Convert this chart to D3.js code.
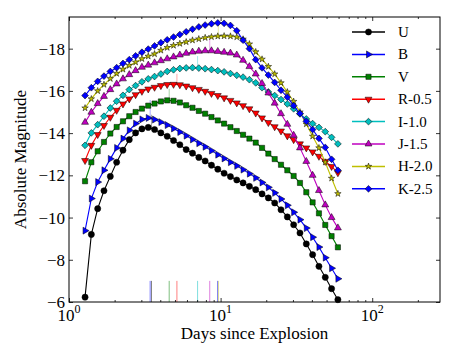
<!DOCTYPE html>
<html>
<head>
<meta charset="utf-8">
<script src="https://cdn.jsdelivr.net/npm/d3@7"></script>
<style>
  body { margin: 0; background: #fff; }
  text { font-family: "Liberation Serif", "DejaVu Serif", serif; fill: #000; }
</style>
</head>
<body>
<div class="chart"></div>
<script>
// light curves, one point per epoch (days since explosion)
var days = [1.276, 1.404, 1.546, 1.701, 1.873, 2.062, 2.270, 2.498, 2.750, 3.027, 3.332, 3.667, 4.037, 4.444, 4.892, 5.385, 5.928, 6.525, 7.183, 7.907, 8.704, 9.581, 10.546, 11.610, 12.780, 14.067, 15.486, 17.047, 18.765, 20.654, 22.737, 25.027, 27.550, 30.327, 33.384, 36.749, 40.453, 44.530, 49.018, 53.951, 59.384];

var magU = [-6.23, -9.2, -10.42, -11.27, -11.95, -12.62, -13.19, -13.69, -14.01, -14.2, -14.27, -14.17, -14.01, -13.85, -13.65, -13.45, -13.22, -13.05, -12.85, -12.68, -12.48, -12.29, -12.10, -11.94, -11.78, -11.64, -11.48, -11.32, -11.12, -10.93, -10.69, -10.37, -10.03, -9.66, -9.27, -8.75, -8.24, -7.69, -7.17, -6.63, -6.11];
var magB = [-9.38, -10.9, -11.68, -12.24, -12.78, -13.3, -13.74, -14.13, -14.45, -14.65, -14.72, -14.64, -14.52, -14.38, -14.22, -14.05, -13.88, -13.7, -13.52, -13.35, -13.17, -12.98, -12.8, -12.62, -12.45, -12.27, -12.08, -11.88, -11.66, -11.43, -11.17, -10.88, -10.58, -10.25, -9.9, -9.5, -9.07, -8.6, -8.1, -7.6, -7.1];
var magV = [-11.72, -12.62, -13.14, -13.58, -13.98, -14.29, -14.56, -14.8, -15.0, -15.16, -15.3, -15.4, -15.5, -15.55, -15.53, -15.45, -15.32, -15.2, -15.05, -14.92, -14.76, -14.6, -14.45, -14.28, -14.1, -13.92, -13.74, -13.55, -13.3, -13.03, -12.77, -12.5, -12.24, -11.97, -11.64, -11.2, -10.72, -10.2, -9.65, -9.12, -8.59];
var magR = [-12.7, -13.42, -13.93, -14.36, -14.75, -15.08, -15.38, -15.62, -15.82, -15.98, -16.09, -16.17, -16.25, -16.3, -16.31, -16.29, -16.23, -16.15, -16.07, -15.98, -15.88, -15.78, -15.67, -15.55, -15.43, -15.3, -15.15, -14.95, -14.72, -14.5, -14.3, -14.1, -13.87, -13.69, -13.49, -13.3, -13.11, -12.9, -12.66, -12.42, -12.12];
var magI = [-13.42, -14.01, -14.4, -14.8, -15.19, -15.51, -15.79, -16.06, -16.25, -16.43, -16.57, -16.68, -16.8, -16.92, -17.0, -17.06, -17.09, -17.1, -17.08, -17.05, -17.01, -16.96, -16.9, -16.82, -16.74, -16.65, -16.53, -16.38, -16.15, -15.95, -15.78, -15.59, -15.38, -15.15, -14.91, -14.67, -14.45, -14.27, -14.07, -13.8, -13.49];
var magJ = [-14.51, -14.99, -15.4, -15.74, -16.06, -16.33, -16.57, -16.77, -16.96, -17.12, -17.22, -17.33, -17.43, -17.52, -17.61, -17.7, -17.78, -17.84, -17.88, -17.9, -17.9, -17.87, -17.83, -17.79, -17.7, -17.45, -17.15, -16.8, -16.35, -15.9, -15.42, -14.92, -14.42, -13.9, -13.3, -12.66, -12.0, -11.28, -10.6, -10.0, -9.51];
var magH = [-15.19, -15.62, -16.0, -16.3, -16.58, -16.82, -17.02, -17.2, -17.36, -17.52, -17.64, -17.75, -17.92, -18.05, -18.15, -18.24, -18.32, -18.4, -18.46, -18.52, -18.56, -18.59, -18.6, -18.59, -18.55, -18.45, -18.22, -17.85, -17.5, -17.15, -16.8, -16.38, -15.95, -15.5, -15.0, -14.43, -13.85, -13.3, -12.62, -11.86, -11.13];
var magK = [-15.78, -16.15, -16.45, -16.7, -16.92, -17.1, -17.3, -17.48, -17.66, -17.83, -17.98, -18.13, -18.28, -18.42, -18.55, -18.67, -18.8, -18.92, -19.03, -19.12, -19.18, -19.22, -19.2, -19.1, -18.85, -18.4, -18.0, -17.48, -17.09, -16.75, -16.4, -16.03, -15.7, -15.3, -14.93, -14.56, -14.17, -13.75, -13.32, -12.76, -12.24];

var bandLabels = ["U", "B", "V", "R-0.5", "I-1.0", "J-1.5", "H-2.0", "K-2.5"];
var bandMags = [magU, magB, magV, magR, magI, magJ, magH, magK];

// peak epochs, peak magnitudes and how far the mark above each peak reaches
var peakDays = [3.50, 3.43, 4.58, 5.15, 7.05, 8.48, 9.66, 9.55];
var peakMags = [-14.27, -14.72, -15.55, -16.31, -17.1, -17.9, -18.6, -19.22];
var peakReach = [0.6, 0.85, 0.55, 0.5, 0.55, 0.55, 0.5, 0];

var xMajor = [1, 10, 100];
var yTicks = [-6, -8, -10, -12, -14, -16, -18];

var colors = ["#000000", "#0000ff", "#008000", "#ff0000", "#00bfbf", "#bf00bf", "#bfbf00", "#0000ff"];
var shapes = ["circle", "tright", "square", "tdown", "diamond", "tup", "star", "diamond"];

var W = 463, H = 348;
var padL = 69, padR = 440, padT = 17, padB = 302;

var svg = d3.select(".chart").append("svg")
    .attr("width", W)
    .attr("height", H);

var x = d3.scaleLog().domain([1, 280]).range([padL, padR]);
var y = d3.scaleLinear().domain([-6, -19.5]).range([padB, padT]);

function symbolPath(s) {
  if (s == "circle") return d3.symbol(d3.symbolCircle, 30)();
  if (s == "square") return d3.symbol(d3.symbolSquare, 27)();
  if (s == "diamond") return d3.symbol(d3.symbolSquare, 23)();
  if (s == "star") return d3.symbol(d3.symbolStar, 13)();
  return d3.symbol(d3.symbolTriangle, 21)();
}
function symbolRot(s) {
  if (s == "diamond") return 45;
  if (s == "tright") return 90;
  if (s == "tdown") return 180;
  return 0;
}

var plot = svg.append("g");

// peak markers: a short one above each peak, and one on the bottom axis
peakDays.forEach(function (d, i) {
  if (peakReach[i] > 0) {
    plot.append("line")
        .attr("x1", x(d)).attr("x2", x(d))
        .attr("y1", y(peakMags[i])).attr("y2", y(peakMags[i] - peakReach[i]))
        .attr("stroke", colors[i])
        .attr("stroke-opacity", 0.35)
        .attr("stroke-width", 1);
  }
  plot.append("line")
      .attr("x1", x(d)).attr("x2", x(d))
      .attr("y1", y(-6)).attr("y2", y(-7))
      .attr("stroke", colors[i])
      .attr("stroke-opacity", 0.5)
      .attr("stroke-width", 1);
});

var line = d3.line()
    .x(function (d) { return x(d[0]); })
    .y(function (d) { return y(d[1]); });

bandMags.forEach(function (mags, i) {
  var pts = days.map(function (t, j) { return [t, mags[j]]; });
  plot.append("path")
      .attr("d", line(pts))
      .attr("fill", "none")
      .attr("stroke", colors[i])
      .attr("stroke-width", 1.1);
  plot.selectAll(".m" + i)
      .data(pts)
    .enter().append("path")
      .attr("class", "m" + i)
      .attr("d", symbolPath(shapes[i]))
      .attr("transform", function (d) {
        return "translate(" + x(d[0]) + "," + y(d[1]) + ") rotate(" + symbolRot(shapes[i]) + ")";
      })
      .attr("fill", colors[i])
      .attr("stroke", "#000")
      .attr("stroke-width", 0.5);
});

// axes, ticks pointing inward on all four sides
var xMinor = [];
[1, 10, 100].forEach(function (dec) {
  for (var k = 2; k <= 9; k++) { if (dec * k <= 280) xMinor.push(dec * k); }
});

function noDomain(g) { g.select(".domain").remove(); }

svg.append("g")
    .attr("transform", "translate(0," + padB + ")")
    .call(d3.axisBottom(x).tickValues(xMajor).tickSize(-4).tickFormat(""))
    .call(noDomain);
svg.append("g")
    .attr("transform", "translate(0," + padB + ")")
    .call(d3.axisBottom(x).tickValues(xMinor).tickSize(-2).tickFormat(""))
    .call(noDomain);
svg.append("g")
    .attr("transform", "translate(0," + padT + ")")
    .call(d3.axisTop(x).tickValues(xMajor).tickSize(-4).tickFormat(""))
    .call(noDomain);
svg.append("g")
    .attr("transform", "translate(0," + padT + ")")
    .call(d3.axisTop(x).tickValues(xMinor).tickSize(-2).tickFormat(""))
    .call(noDomain);

var yAxis = svg.append("g")
    .attr("transform", "translate(" + padL + ",0)")
    .call(d3.axisLeft(y).tickValues(yTicks).tickSize(-4).tickPadding(4).tickFormat(d3.format("d")))
    .call(noDomain);
yAxis.selectAll("text")
    .style("font-size", "17px")
    .style("font-family", "Liberation Serif, serif");
svg.append("g")
    .attr("transform", "translate(" + padR + ",0)")
    .call(d3.axisRight(y).tickValues(yTicks).tickSize(-4).tickFormat(""))
    .call(noDomain);

svg.selectAll(".tick line").attr("stroke", "#000").attr("stroke-width", 0.8);

// x tick labels as 10^n
xMajor.forEach(function (v, i) {
  var t = svg.append("text")
      .attr("x", x(v))
      .attr("y", 321)
      .attr("text-anchor", "middle")
      .style("font-size", "17px");
  t.append("tspan").text("10");
  t.append("tspan")
      .attr("dy", -8)
      .style("font-size", "12px")
      .text(String(i));
});

svg.append("rect")
    .attr("x", padL).attr("y", padT)
    .attr("width", padR - padL).attr("height", padB - padT)
    .attr("fill", "none")
    .attr("stroke", "#000")
    .attr("stroke-width", 1);

svg.append("text")
    .attr("x", (padL + padR) / 2)
    .attr("y", 339)
    .attr("text-anchor", "middle")
    .style("font-size", "17px")
    .text("Days since Explosion");

svg.append("text")
    .attr("transform", "translate(26," + (padT + padB) / 2 + ") rotate(-90)")
    .attr("text-anchor", "middle")
    .style("font-size", "17px")
    .text("Absolute Magnitude");

// legend
var leg = svg.append("g");
bandLabels.forEach(function (lab, i) {
  var ly = 32 + i * 22.4;
  leg.append("line")
      .attr("x1", 352).attr("x2", 385)
      .attr("y1", ly).attr("y2", ly)
      .attr("stroke", colors[i])
      .attr("stroke-width", 1.5);
  leg.append("path")
      .attr("d", symbolPath(shapes[i]))
      .attr("transform", "translate(368.5," + ly + ") rotate(" + symbolRot(shapes[i]) + ")")
      .attr("fill", colors[i])
      .attr("stroke", "#000")
      .attr("stroke-width", 0.5);
  leg.append("text")
      .attr("x", 398)
      .attr("y", ly + 5)
      .style("font-size", "15px")
      .text(lab);
});
</script>
</body>
</html>
